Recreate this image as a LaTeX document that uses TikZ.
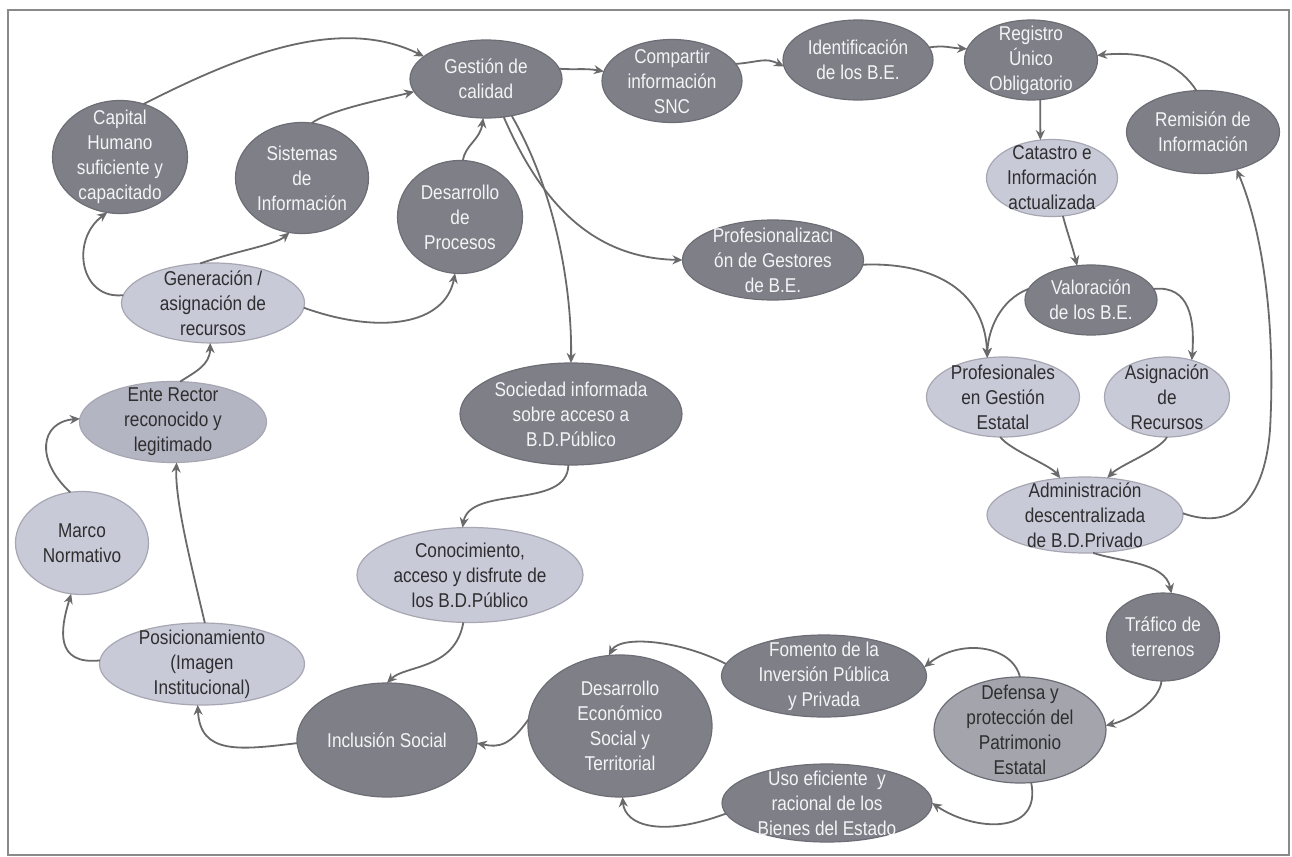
\documentclass[tikz,border=0pt]{standalone}
\usepackage{fontspec}
\setmainfont{Liberation Sans}[FakeStretch=0.86]
\usetikzlibrary{shapes.geometric,arrows.meta}
\definecolor{dkfill}{HTML}{7E7F87}
\definecolor{dkline}{HTML}{6C6D75}
\definecolor{ltfill}{HTML}{C9CAD7}
\definecolor{ltline}{HTML}{A6A7B3}
\definecolor{mdfill}{HTML}{B4B5C2}
\definecolor{dffill}{HTML}{A4A5AC}
\definecolor{dktext}{HTML}{F4F4F6}
\definecolor{lttext}{HTML}{2E2E30}
\definecolor{arrcol}{HTML}{6A6A6C}
\definecolor{framecol}{HTML}{8A8A8A}
\begin{document}
\begin{tikzpicture}[x=0.5pt,y=-0.5pt,
  ell/.style={ellipse, inner sep=0pt, outer sep=0pt, line width=0.6pt},
  sz/.style 2 args={minimum width=#1*0.5pt, minimum height=#2*0.5pt},
  dk/.style={ell, fill=dkfill, draw=dkline},
  lt/.style={ell, fill=ltfill, draw=ltline},
  md/.style={ell, fill=mdfill, draw=ltline},
  df/.style={ell, fill=dffill, draw=dkline},
  txt/.style={align=center, font=\fontsize{10}{12.5}\selectfont, inner sep=0pt},
  tdk/.style={txt, text=dktext},
  tlt/.style={txt, text=lttext},
  arr/.style={draw=arrcol, line width=0.9pt, -{Stealth[length=5pt,width=4.5pt]}},
]
\fill[white] (0,0) rectangle (1292,857);
\useasboundingbox (0,0) rectangle (1292,857);
\draw[framecol, line width=1.2pt] (8,10) rectangle (1289,855);

% nodes
\node[dk, sz={152}{78}, label={[tdk]center:Gestión de\\calidad}] (gc) at (486,79) {};
\node[dk, sz={140}{83}, label={[tdk]center:Compartir\\información\\SNC}] (csnc) at (672,81) {};
\node[dk, sz={150}{80}, label={[tdk]center:Identificación\\de los B.E.}] (ide) at (858,60) {};
\node[dk, sz={133}{80}, label={[tdk]center:Registro\\Único\\Obligatorio}] (reg) at (1031,60) {};
\node[dk, sz={153}{83}, label={[tdk]center:Remisión de\\Información}] (rem) at (1203,132) {};
\node[lt, sz={131}{77}, label={[tlt]center:Catastro e\\Información\\actualizada}] (cat) at (1052,178) {};
\node[dk, sz={132}{70}, label={[tdk]center:Valoración\\de los B.E.}] (val) at (1091,300) {};
\node[lt, sz={153}{80}, label={[tlt]center:Profesionales\\en Gestión\\Estatal}] (prof) at (1003,397) {};
\node[lt, sz={125}{80}, label={[tlt]center:Asignación\\de\\Recursos}] (asig) at (1167,397) {};
\node[lt, sz={196}{76}, label={[tlt]center:Administración\\descentralizada\\de B.D.Privado}] (adm) at (1085,515) {};
\node[dk, sz={181}{80}, label={[tdk]center:Profesionalizaci\\ón de Gestores\\de B.E.}] (pge) at (773,260) {};
\node[dk, sz={135}{113}, label={[tdk]center:Capital\\Humano\\suficiente y\\capacitado}] (cap) at (120,157) {};
\node[dk, sz={133}{111}, label={[tdk]center:Sistemas\\de\\Información}] (sis) at (302,178) {};
\node[dk, sz={125}{113}, label={[tdk]center:Desarrollo\\de\\Procesos}] (dpro) at (460,217) {};
\node[lt, sz={183}{80}, label={[tlt]center:Generación /\\asignación de\\recursos}] (gen) at (213,303) {};
\node[dk, sz={222}{102}, label={[tdk]center:Sociedad informada\\sobre acceso a\\B.D.Público}] (soc) at (571,414) {};
\node[lt, sz={226}{95}, label={[tlt]center:{Conocimiento,\\acceso y disfrute de\\los B.D.Público}}] (con) at (470,575) {};
\node[md, sz={187}{81}, label={[tlt]center:Ente Rector\\reconocido y\\legitimado}] (ente) at (173,422) {};
\node[lt, sz={133}{103}, label={[tlt]center:Marco\\Normativo}] (marco) at (82,543) {};
\node[lt, sz={205}{82}, label={[tlt]center:Posicionamiento\\(Imagen\\Institucional)}] (pos) at (202,664) {};
\node[dk, sz={180}{114}, label={[tdk]center:Inclusión Social}] (inc) at (387,740) {};
\node[dk, sz={184}{142}, label={[tdk]center:Desarrollo\\Económico\\Social y\\Territorial}] (dec) at (620,726) {};
\node[dk, sz={205}{82}, label={[tdk]center:Fomento de la\\Inversión Pública\\y Privada}] (fom) at (824,676) {};
\node[dk, sz={113}{88}, label={[tdk]center:Tráfico de\\terrenos}] (traf) at (1163,637) {};
\node[df, sz={172}{106}, label={[tlt]center:Defensa y\\protección del\\Patrimonio\\Estatal}] (def) at (1020,730) {};
\node[dk, sz={210}{78}, label={[tdk]center:Uso eficiente~ y\\racional de los\\Bienes del Estado}] (uso) at (827,803) {};

\coordinate (rbend) at (1270,430);

% connectors
\draw[arr] (cap.66) .. controls (240,55) and (340,15) .. (gc.160);
\draw[arr] (sis.80) .. controls (330,110) and (380,100) .. (gc.190);
\draw[arr] (dpro.87) .. controls (465,145) and (480,140) .. (gc.266);
\draw[arr] (gen.175) .. controls (80,300) and (70,240) .. (cap.257);
\draw[arr] (gen.108) .. controls (240,250) and (275,245) .. (sis.257);
\draw[arr] (gen.357) .. controls (380,335) and (445,325) .. (dpro.265);
\draw[arr] (ente.80) .. controls (195,372) and (210,365) .. (gen.266);
\draw[arr] (marco.103) .. controls (35,460) and (40,422) .. (ente.178);
\draw[arr] (pos.178) .. controls (55,665) and (60,630) .. (marco.258);
\draw[arr] (pos.86) .. controls (190,560) and (175,500) .. (ente.275);
\draw[arr] (inc.182) .. controls (240,750) and (200,755) .. (pos.264);
\draw[arr] (con.262) .. controls (455,670) and (405,665) .. (inc.90);
\draw[arr] (soc.267) .. controls (568,510) and (470,485) .. (con.99);
\draw[arr] (gc.305) .. controls (560,200) and (572,300) .. (soc.90);
\draw[arr] (gc.295) .. controls (540,200) and (590,258) .. (pge.180);
\draw[arr] (gc.8) .. controls (575,70) and (585,68) .. (csnc.172);
\draw[arr] (csnc.15) .. controls (760,62) and (765,57) .. (ide.185);
\draw[arr] (ide.10) .. controls (945,45) and (950,48) .. (reg.170);
\draw[arr] (reg.283) -- (cat.107);
\draw[arr] (cat.286) .. controls (1068,235) and (1072,245) .. (val.112);
\draw[arr] (pge.357) .. controls (925,262) and (985,285) .. (prof.112);
\draw[arr] (val.170) .. controls (1000,300) and (988,330) .. (prof.112);
\draw[arr] (val.10) .. controls (1190,285) and (1195,320) .. (asig.56);
\draw[arr] (prof.266) .. controls (1010,450) and (1050,465) .. (adm.124);
\draw[arr] (asig.270) .. controls (1160,450) and (1120,465) .. (adm.59);
\draw[arr] (adm.1) .. controls (1230,530) and (1264,505) .. (rbend) .. controls (1276,320) and (1262,230) .. (rem.312);
\draw[arr] (rem.99) .. controls (1180,65) and (1150,50) .. (reg.4);
\draw[arr] (adm.282) .. controls (1120,562) and (1165,562) .. (traf.79);
\draw[arr] (traf.268) .. controls (1160,700) and (1130,720) .. (def.3);
\draw[arr] (def.90) .. controls (1012,645) and (960,638) .. (fom.5);
\draw[arr] (def.282) .. controls (1042,835) and (975,832) .. (uso.0);
\draw[arr] (fom.173) .. controls (680,640) and (620,635) .. (dec.99);
\draw[arr] (uso.186) .. controls (660,838) and (625,825) .. (dec.272);
\draw[arr] (dec.176) .. controls (510,745) and (500,748) .. (inc.358);
\end{tikzpicture}
\end{document}
